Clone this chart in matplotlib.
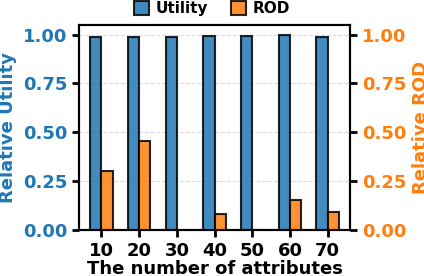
import matplotlib
matplotlib.use("Agg")
import matplotlib.pyplot as plt
import numpy as np

categories = ["10", "20", "30", "40", "50", "60", "70"]
utility = [0.99, 0.99, 0.99, 0.995, 0.995, 1.0, 0.99]
rod = [0.30, 0.455, 0.0, 0.08, 0.0, 0.155, 0.09]

plt.rcParams['font.family'] = 'DejaVu Sans'
plt.rcParams['font.weight'] = 'bold'

fig = plt.figure(figsize=(4.24, 2.76), dpi=100)
ax = fig.add_axes([0.186, 0.167, 0.64, 0.743])
ax2 = ax.twinx()

x = np.arange(len(categories))
w = 0.3
blue = '#1f77b4'
orange = '#ff7f0e'
b1 = ax.bar(x - w/2, utility, w, color=blue, alpha=0.85, edgecolor='black', linewidth=1.5, label='Utility', zorder=3)
b2 = ax2.bar(x + w/2, rod, w, color=orange, alpha=0.85, edgecolor='black', linewidth=1.5, label='ROD', zorder=3)

ax.set_xlim(-0.6, 6.6)
ax.set_ylim(0, 1.05)
ax2.set_ylim(0, 1.05)
yt = [0, 0.25, 0.5, 0.75, 1.0]
ax.set_yticks(yt)
ax2.set_yticks(yt)
ax.set_yticklabels([f"{v:.2f}" for v in yt], color=blue, fontsize=13, fontweight='bold')
ax2.set_yticklabels([f"{v:.2f}" for v in yt], color=orange, fontsize=13, fontweight='bold')
ax.set_xticks(x)
ax.set_xticklabels(categories, fontsize=13, fontweight='bold')
ax.grid(axis='y', linestyle='--', color='lightgray', alpha=0.8, zorder=0)
ax.set_axisbelow(True)
for a in (ax, ax2):
    a.tick_params(width=2, length=5)
    for s in a.spines.values():
        s.set_linewidth(1.5)
ax.set_ylabel('Relative Utility', color=blue, fontsize=13, fontweight='bold')
ax2.set_ylabel('Relative ROD', color=orange, fontsize=13, fontweight='bold')
ax.set_xlabel('The number of attributes', fontsize=13, fontweight='bold', labelpad=0)

fig.legend(handles=[b1, b2], labels=['Utility', 'ROD'], loc='upper center', bbox_to_anchor=(0.5, 1.045),
           ncol=2, frameon=False, prop={'weight': 'bold', 'size': 11},
           handlelength=1.0, handleheight=1.0, columnspacing=1.5, handletextpad=0.4)

fig.savefig('out.png', dpi=100)
